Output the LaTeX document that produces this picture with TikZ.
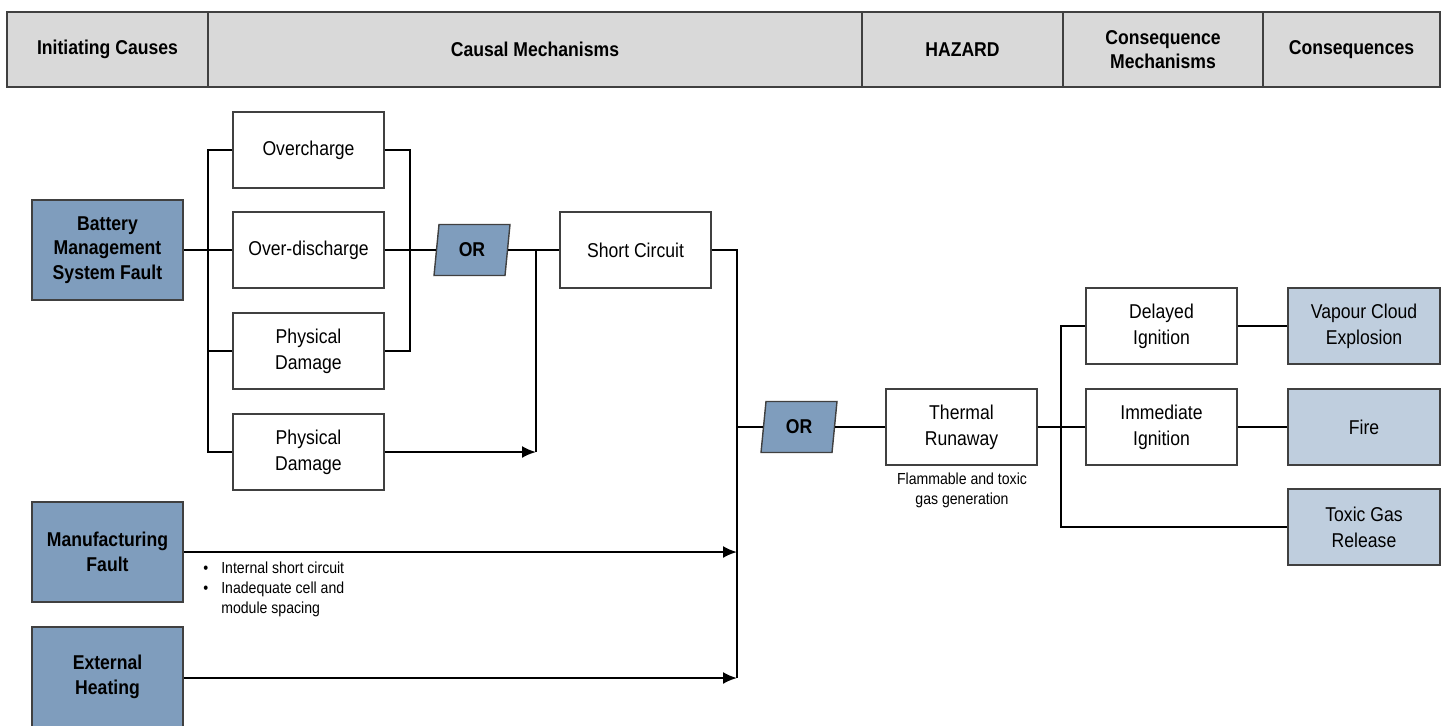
\documentclass[tikz,border=0pt]{standalone}
\usepackage{fontspec}
\setmainfont[FakeStretch=0.88]{Liberation Sans}
\usetikzlibrary{arrows.meta,shapes.geometric}
\definecolor{hdrfill}{HTML}{D9D9D9}
\definecolor{causefill}{HTML}{7F9DBD}
\definecolor{consfill}{HTML}{BFCEDE}
\definecolor{edgegray}{HTML}{404040}
\tikzset{
  hdr/.style={draw=edgegray, line width=0.8pt, fill=hdrfill, minimum height=37.5pt, inner sep=0pt, align=center, font=\fontsize{10}{12}\selectfont\bfseries},
  mechbox/.style={draw=edgegray, line width=0.7pt, fill=white, minimum width=75.5pt, minimum height=38pt, inner sep=1pt, align=center, font=\fontsize{10}{13}\selectfont},
  causebox/.style={draw=edgegray, line width=0.7pt, fill=causefill, minimum width=75.5pt, minimum height=50pt, inner sep=1pt, align=center, font=\fontsize{10}{12.25}\selectfont\bfseries},
  consbox/.style={mechbox, fill=consfill},
  orgate/.style={trapezium, trapezium left angle=82, trapezium right angle=98, trapezium stretches=true, draw=edgegray, line width=0.7pt, fill=causefill, minimum width=38pt, minimum height=25.5pt, inner sep=0pt, font=\fontsize{10}{12}\selectfont\bfseries},
  conn/.style={line width=1pt, black},
  arr/.style={conn, -{Latex[length=7pt,width=6pt]}},
  note/.style={inner sep=0pt, align=center, font=\fontsize{8}{10}\selectfont}
}
\begin{document}
\begin{tikzpicture}[x=0.5pt, y=-0.5pt]
\useasboundingbox (0,0) rectangle (1445,725);
\clip (0,0) rectangle (1445,725);
\fill[white] (0,0) rectangle (1445,725);
% header
\node[hdr, minimum width=100.5pt] (h1) at (107.5,49.5) {Initiating Causes};
\node[hdr, minimum width=327pt] (h2) at (535,49.5) {Causal Mechanisms};
\node[hdr, minimum width=100.5pt] (h3) at (962.5,49.5) {HAZARD};
\node[hdr, minimum width=100pt] (h4) at (1163,49.5) {Consequence\\Mechanisms};
\node[hdr, minimum width=88.5pt] (h5) at (1351.5,49.5) {Consequences};
% initiating causes
\node[causebox] (bms) at (107.5,250) {Battery\\Management\\System Fault};
\node[causebox] (mf) at (107.5,552) {Manufacturing\\Fault};
\node[causebox] (eh) at (107.5,677) {External\\Heating};
% causal mechanisms
\node[mechbox] (oc) at (308.5,150) {Overcharge};
\node[mechbox] (ovd) at (308.5,250) {Over-discharge};
\node[mechbox] (pd1) at (308.5,351) {Physical\\Damage};
\node[mechbox] (pd2) at (308.5,452) {Physical\\Damage};
\node[orgate] (or1) at (472,250) {OR};
\node[mechbox] (sc) at (635.5,250) {Short Circuit};
\node[orgate] (or2) at (799,427) {OR};
% hazard
\node[mechbox] (tr) at (961.5,427) {Thermal\\Runaway};
\node[note] (trnote) at (962,490) {Flammable and toxic\\gas generation};
% consequence mechanisms and consequences
\node[mechbox] (di) at (1161.5,326) {Delayed\\Ignition};
\node[mechbox] (ii) at (1161.5,427) {Immediate\\Ignition};
\node[consbox, minimum width=76pt] (vc) at (1364,326) {Vapour Cloud\\Explosion};
\node[consbox, minimum width=76pt] (fire) at (1364,427) {Fire};
\node[consbox, minimum width=76pt] (tg) at (1364,527) {Toxic Gas\\Release};
% bullet note
\node[inner sep=0pt, anchor=north west, font=\fontsize{8}{10}\selectfont] (mfnote) at (203,559)
  {\begin{tabular}{@{}l@{\hspace{6.5pt}}l@{}}\textbullet & Internal short circuit\\ \textbullet & Inadequate cell and\\ & module spacing\end{tabular}};
% junction coordinates
\coordinate (j1) at (208,150);
\coordinate (j2) at (410,150);
\coordinate (j3) at (536,250);
\coordinate (j4) at (737,250);
\coordinate (j4b) at (737,678);
\coordinate (j5) at (1061,326);
% connectors
\draw[conn] (bms.east) -- (ovd.west);
\draw[conn] (oc.west) -- (j1) |- (pd2.west);
\draw[conn] (j1 |- pd1.west) -- (pd1.west);
\draw[conn] (oc.east) -- (j2) |- (pd1.east);
\draw[conn] (ovd.east) -- (or1.west);
\draw[conn] (or1.east) -- (sc.west);
\draw[conn] (j3) -- (j3 |- pd2.east);
\draw[arr] (pd2.east) -- (pd2.east -| j3);
\draw[conn] (sc.east) -- (j4) -- (j4b);
\draw[arr] (mf.east) -- (mf.east -| j4);
\draw[arr] (eh.east |- j4b) -- (j4b);
\draw[conn] (j4 |- or2.west) -- (or2.west);
\draw[conn] (or2.east) -- (tr.west);
\draw[conn] (tr.east) -- (ii.west);
\draw[conn] (di.west) -- (j5) |- (tg.west);
\draw[conn] (di.east) -- (vc.west);
\draw[conn] (ii.east) -- (fire.west);
\end{tikzpicture}
\end{document}
